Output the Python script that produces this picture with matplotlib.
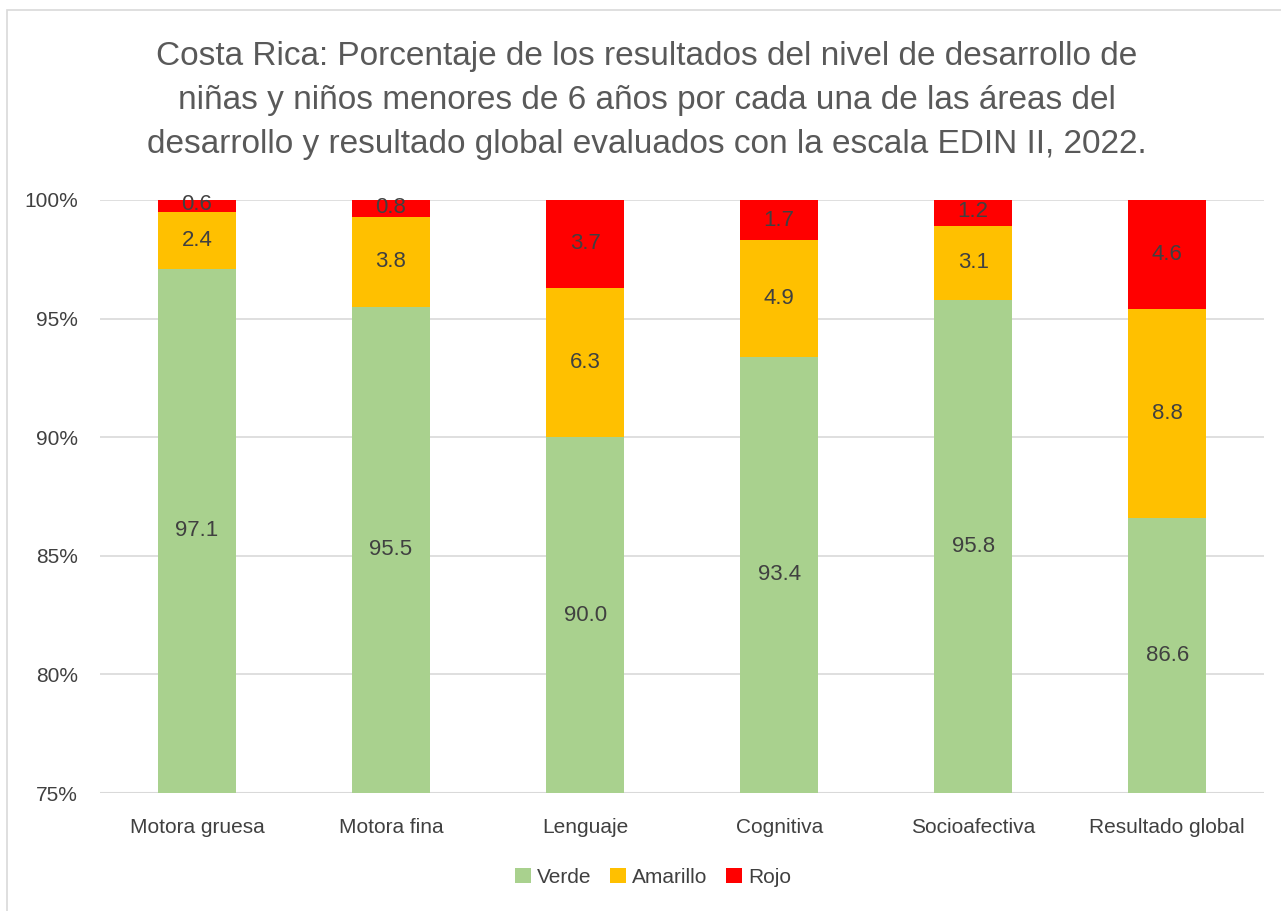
import matplotlib
matplotlib.use('Agg')
import matplotlib.pyplot as plt
import numpy as np
from matplotlib.patches import Rectangle

plt.rcParams['font.family'] = ['Liberation Sans', 'DejaVu Sans']

categorias = ['Motora gruesa', 'Motora fina', 'Lenguaje', 'Cognitiva',
              'Socioafectiva', 'Resultado global']
verde = [97.1, 95.5, 90.0, 93.4, 95.8, 86.6]
amarillo = [2.4, 3.8, 6.3, 4.9, 3.1, 8.8]
rojo = [0.6, 0.8, 3.7, 1.7, 1.2, 4.6]
y_ticks = [75, 80, 85, 90, 95, 100]

C_VERDE = '#A9D18E'
C_AMARILLO = '#FFC000'
C_ROJO = '#FF0000'
TXT = '#404040'
GRID = '#D9D9D9'

YMIN, YMAX = 75, 100

fig = plt.figure(figsize=(12.81, 9.11), dpi=100, facecolor='white')
ax = fig.add_axes([0.078, 0.1295, 0.909, 0.651])

x = np.arange(len(categorias))
w = 0.4
series = [('Verde', verde, C_VERDE), ('Amarillo', amarillo, C_AMARILLO),
          ('Rojo', rojo, C_ROJO)]
bottom = np.zeros(len(categorias))
for nombre, vals, col in series:
    vals = np.array(vals)
    ax.bar(x, vals, w, bottom=bottom, color=col, label=nombre, zorder=3)
    for xi, b, v in zip(x, bottom, vals):
        # etiqueta al centro de la parte visible
        lo = max(b, YMIN)
        hi = b + v
        yc = (lo + hi) / 2
        ax.text(xi, yc, f'{v:.1f}', ha='center', va='center',
                fontsize=16, color=TXT, zorder=4)
    bottom = bottom + vals

ax.set_ylim(YMIN, YMAX)
ax.set_xlim(-0.5, len(categorias) - 0.5)
ax.set_yticks(y_ticks)
ax.set_yticklabels([f'{t}%' for t in y_ticks], fontsize=15, color=TXT)
ax.set_xticks(x)
ax.set_xticklabels(categorias, fontsize=15, color=TXT)
ax.tick_params(axis='x', length=0, pad=18)
ax.tick_params(axis='y', length=0, pad=16)
ax.grid(axis='y', color=GRID, linewidth=1.2, zorder=0)
for s in ax.spines.values():
    s.set_visible(False)
ax.axhline(YMIN, color=GRID, linewidth=1.5, zorder=2)

fig.text(0.505, 0.89,
         'Costa Rica: Porcentaje de los resultados del nivel de desarrollo de\n'
         'niñas y niños menores de 6 años por cada una de las áreas del\n'
         'desarrollo y resultado global evaluados con la escala EDIN II, 2022.',
         ha='center', va='center', fontsize=24, color='#595959',
         linespacing=1.55)

leg = fig.legend(loc='center', bbox_to_anchor=(0.51, 0.037), ncol=3,
                 frameon=False, fontsize=15, handlelength=0.75,
                 handleheight=0.75, handletextpad=0.3, columnspacing=0.9)
for t in leg.get_texts():
    t.set_color(TXT)

fig.patches.append(Rectangle((7 / 1281, -0.1), 1.2, 1.1 - 10 / 911,
                             transform=fig.transFigure, fill=False,
                             edgecolor='#D9D9D9', linewidth=1.2))

fig.savefig('out.png', dpi=100, facecolor='white')
